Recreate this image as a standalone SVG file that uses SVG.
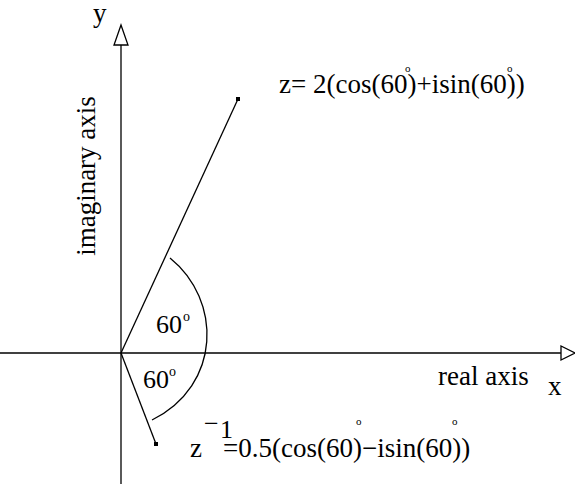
<svg xmlns="http://www.w3.org/2000/svg" width="575" height="484" viewBox="0 0 575 484">
<style>
.ln{stroke:#000;stroke-width:1.3;fill:none}
.t{font-family:"Liberation Serif","Times New Roman",serif;font-size:27px;fill:#000}
.a{font-family:"Liberation Serif","Times New Roman",serif;font-size:26px;fill:#000}
.s{font-family:"Liberation Serif","Times New Roman",serif;font-size:14px;fill:#000}
.d{font-family:"Liberation Serif","Times New Roman",serif;font-size:11px;fill:#000}
</style>
<rect width="575" height="484" fill="#fff"/>
<g id="connectors">
<line class="ln" x1="121" y1="484" x2="121" y2="45"/>
<polygon class="ln" points="121,25 114,45 128,45"/>
<line class="ln" x1="0" y1="353" x2="561" y2="353"/>
<polygon class="ln" points="575,353 561,346 561,360"/>
<line class="ln" x1="121" y1="353" x2="238" y2="99"/>
<line class="ln" x1="121" y1="353" x2="156" y2="444"/>
<path class="ln" d="M170,258 C222,300 222,385 152,420"/>
</g>
<g id="points">
<rect x="236" y="97" width="4" height="4"/>
<rect x="154" y="442" width="4" height="4"/>
</g>
<g id="labels">
<text class="t" x="93" y="22">y</text>
<text class="t" transform="translate(95,176) rotate(-90)" text-anchor="middle">imaginary axis</text>
<text class="t" x="438" y="385">real axis</text>
<text class="t" x="548" y="395">x</text>
<text class="a" x="156" y="333">60</text><text class="s" x="183" y="321">o</text>
<text class="a" x="143" y="388">60</text><text class="s" x="169" y="376">o</text>
<text class="t" x="279" y="93">z= 2(cos(60)+isin(60))</text>
<text class="d" x="405" y="72">o</text>
<text class="d" x="507" y="72">o</text>
<text class="t" x="190" y="457">z</text>
<text class="a" x="204" y="432" font-size="20">−</text>
<text class="a" x="220" y="438" font-size="22">1</text>
<text class="t" x="223" y="457">=0.5(cos(60)−isin(60))</text>
<text class="d" x="356" y="425">o</text>
<text class="d" x="452" y="425">o</text>
</g>
</svg>
